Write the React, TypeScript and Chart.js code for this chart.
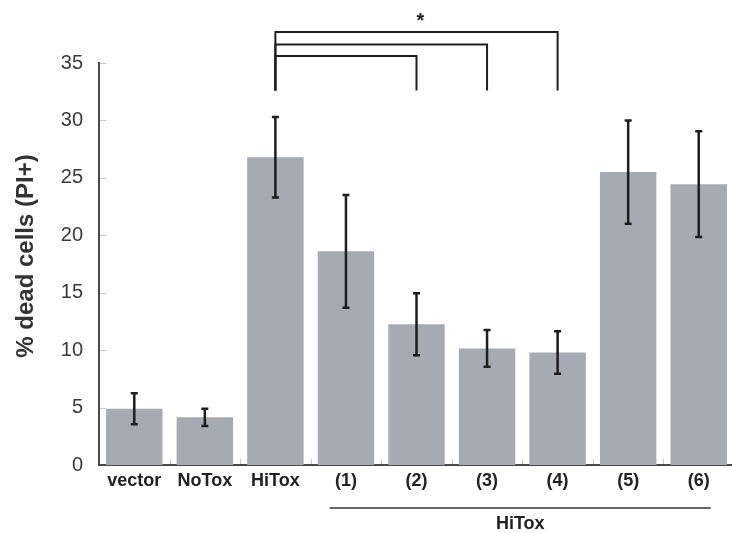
import React, { useEffect, useRef } from "react";
import { Chart, registerables } from "chart.js";

Chart.register(...registerables);

const categories = ["vector", "NoTox", "HiTox", "(1)", "(2)", "(3)", "(4)", "(5)", "(6)"];
const means = [4.9, 4.15, 26.8, 18.6, 12.25, 10.15, 9.8, 25.5, 24.45];
const errors = [1.35, 0.75, 3.5, 4.9, 2.7, 1.6, 1.85, 4.5, 4.6];
const yMin = 0;
const yMax = 35;
const yStep = 5;
const yTitle = "% dead cells (PI+)";
// significance brackets: [fromIndex, toIndex, levelValue]
const bracketFrom = [2, 2, 2];
const bracketTo = [6, 5, 4];
const bracketLevel = [37.7, 36.6, 35.6];
const bracketBase = 32.6;
const starLabel = "*";
const starValue = 38.9;
// group underline
const groupLabel = "HiTox";
const groupStart = 2.77;
const groupEnd = 8.17;

const BAR_COLOR = "#a6aab2";
const INK = "#1e1e1e";
const FONT = "'Liberation Sans', Arial, Helvetica, sans-serif";

const overlayPlugin = {
  id: "overlay",
  afterDatasetsDraw(chart: any) {
    const { ctx, scales, chartArea } = chart;
    const x = scales.x;
    const y = scales.y;
    ctx.save();
    // inner tick marks (light)
    ctx.strokeStyle = "#c8c8c8";
    ctx.lineWidth = 1;
    for (let v = yMin + yStep; v <= yMax; v += yStep) {
      const py = Math.round(y.getPixelForValue(v)) + 0.5;
      ctx.beginPath();
      ctx.moveTo(chartArea.left + 1, py);
      ctx.lineTo(chartArea.left + 7, py);
      ctx.stroke();
    }
    for (let i = 1; i < categories.length; i++) {
      const px = Math.round(x.getPixelForValue(i - 0.5)) + 0.5;
      ctx.beginPath();
      ctx.moveTo(px, chartArea.bottom - 1);
      ctx.lineTo(px, chartArea.bottom - 6);
      ctx.stroke();
    }
    // error bars
    ctx.strokeStyle = INK;
    ctx.lineWidth = 2.5;
    means.forEach((m, i) => {
      const px = x.getPixelForValue(i);
      const top = y.getPixelForValue(m + errors[i]);
      const bot = y.getPixelForValue(m - errors[i]);
      ctx.beginPath();
      ctx.moveTo(px, top);
      ctx.lineTo(px, bot);
      ctx.moveTo(px - 3.5, top);
      ctx.lineTo(px + 3.5, top);
      ctx.moveTo(px - 3.5, bot);
      ctx.lineTo(px + 3.5, bot);
      ctx.stroke();
    });
    // brackets
    ctx.lineWidth = 2;
    ctx.strokeStyle = INK;
    const baseY = y.getPixelForValue(bracketBase);
    bracketFrom.forEach((f, k) => {
      const x1 = x.getPixelForValue(f);
      const x2 = x.getPixelForValue(bracketTo[k]);
      const ly = y.getPixelForValue(bracketLevel[k]);
      ctx.beginPath();
      ctx.moveTo(x1, baseY);
      ctx.lineTo(x1, ly);
      ctx.lineTo(x2, ly);
      ctx.lineTo(x2, baseY);
      ctx.stroke();
    });
    const maxTo = Math.max(...bracketTo);
    const minFrom = Math.min(...bracketFrom);
    ctx.fillStyle = INK;
    ctx.font = `bold 20px ${FONT}`;
    ctx.textAlign = "center";
    ctx.textBaseline = "middle";
    ctx.fillText(
      starLabel,
      (x.getPixelForValue(minFrom) + x.getPixelForValue(maxTo)) / 2 + 4,
      y.getPixelForValue(starValue) + 3
    );
    // group underline
    const gy = chartArea.bottom + 43;
    ctx.strokeStyle = "#333";
    ctx.lineWidth = 1.5;
    ctx.beginPath();
    ctx.moveTo(x.getPixelForValue(groupStart), gy);
    ctx.lineTo(x.getPixelForValue(groupEnd), gy);
    ctx.stroke();
    ctx.fillStyle = "#222";
    ctx.font = `bold 18px ${FONT}`;
    ctx.fillText(
      groupLabel,
      (x.getPixelForValue(groupStart) + x.getPixelForValue(groupEnd)) / 2,
      gy + 16
    );
    // y-axis title
    ctx.save();
    ctx.translate(26, (chartArea.top + chartArea.bottom) / 2 - 8);
    ctx.rotate(-Math.PI / 2);
    ctx.fillStyle = "#333";
    ctx.font = `bold 24px ${FONT}`;
    ctx.textAlign = "center";
    ctx.textBaseline = "middle";
    ctx.fillText(yTitle, 0, 0);
    ctx.restore();
    ctx.restore();
  },
};

export default function App() {
  const ref = useRef<HTMLCanvasElement | null>(null);
  useEffect(() => {
    if (!ref.current) return;
    const chart = new Chart(ref.current, {
      type: "bar",
      data: {
        labels: categories,
        datasets: [
          {
            data: means,
            backgroundColor: BAR_COLOR,
            borderWidth: 0,
            barPercentage: 0.8,
            categoryPercentage: 1,
          },
        ],
      },
      options: {
        responsive: false,
        animation: false,
        layout: { padding: { top: 63, right: 6, left: 0, bottom: 0 } },
        plugins: {
          legend: { display: false },
          tooltip: { enabled: false },
          title: { display: false },
        },
        scales: {
          x: {
            grid: { display: false, drawTicks: false },
            border: { display: true, color: "#4a4a4a", width: 2 },
            ticks: {
              padding: 5,
              color: "#222",
              maxRotation: 0,
              autoSkip: false,
              font: { family: FONT, size: 18, weight: "bold" },
            },
            afterFit: (s: any) => {
              s.height = 68;
            },
          },
          y: {
            min: yMin,
            max: yMax,
            grid: { display: false, drawTicks: false },
            border: { display: true, color: "#4a4a4a", width: 2 },
            ticks: {
              stepSize: yStep,
              padding: 16,
              color: "#3a3a3a",
              font: { family: FONT, size: 20 },
            },
            afterFit: (s: any) => {
              s.width = 99;
            },
          },
        },
      },
      plugins: [overlayPlugin],
    });
    return () => chart.destroy();
  }, []);
  return (
    <div
      style={{
        position: "fixed",
        left: 0,
        top: 0,
        width: 732,
        height: 533,
        overflow: "hidden",
        background: "#fff",
      }}
    >
      <canvas ref={ref} width={740} height={533} style={{ display: "block" }} />
    </div>
  );
}
